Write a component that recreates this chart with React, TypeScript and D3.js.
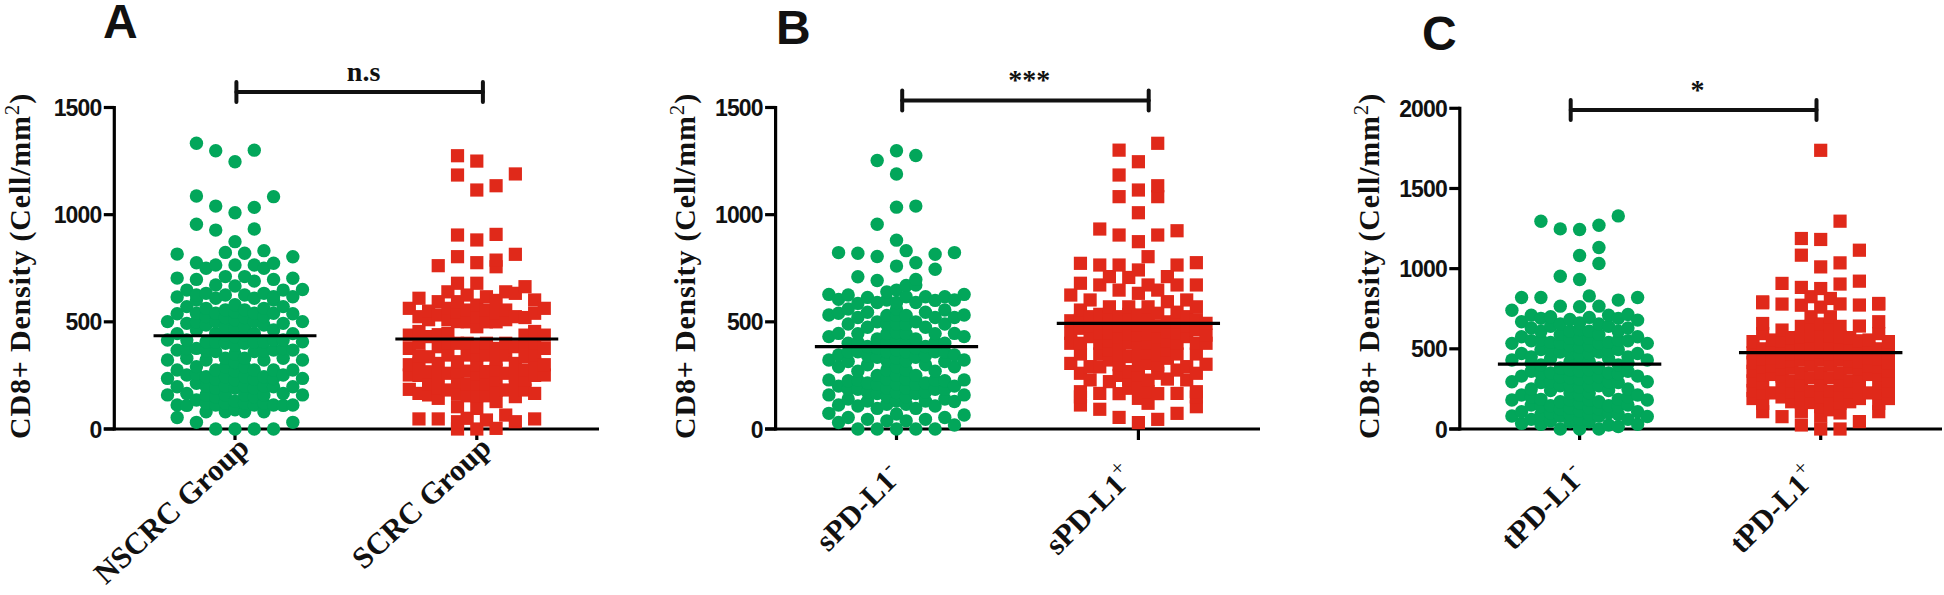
import React from "react";
import * as d3 from "d3";

// Every series: values per swarm lane, leftmost lane (-7) to rightmost lane (+7)
const nscrcLanes: number[][] = [
  [159, 236, 322, 415, 501],
  [54, 112, 197, 275, 368, 445, 538, 616, 704, 816],
  [110, 166, 252, 330, 375, 415, 493, 571, 648],
  [31, 135, 213, 255, 291, 376, 462, 500, 540, 602, 625, 698, 776, 955, 1087, 1333],
  [80, 120, 159, 200, 244, 322, 365, 407, 485, 525, 563, 633, 750],
  [0, 112, 150, 190, 232, 275, 361, 405, 446, 500, 540, 610, 672, 765, 928, 1040, 1298],
  [80, 120, 159, 200, 244, 290, 330, 400, 440, 478, 520, 556, 625, 711, 824],
  [0, 90, 130, 190, 230, 270, 310, 350, 390, 430, 470, 510, 545, 580, 667, 765, 874, 1009, 1247],
  [80, 120, 159, 200, 244, 290, 330, 400, 440, 478, 520, 556, 625, 711, 820],
  [0, 112, 150, 190, 232, 275, 361, 405, 446, 500, 540, 610, 690, 765, 933, 1034, 1301],
  [80, 120, 159, 200, 244, 322, 365, 407, 485, 525, 563, 633, 750, 832],
  [0, 112, 197, 235, 275, 368, 415, 462, 540, 602, 617, 698, 773, 1084],
  [110, 166, 252, 330, 375, 415, 493, 571, 648],
  [31, 112, 197, 275, 368, 445, 538, 617, 703, 804],
  [159, 236, 322, 407, 501, 651],
];
const scrcLanes: number[][] = [
  [185, 252, 300, 376, 438, 563],
  [47, 166, 250, 306, 340, 400, 455, 524, 610],
  [159, 210, 267, 337, 431, 510, 550],
  [47, 143, 190, 250, 306, 384, 440, 532, 594, 762],
  [182, 260, 345, 400, 446, 510, 563, 640],
  [0, 34, 104, 165, 221, 268, 314, 400, 501, 545, 594, 680, 804, 905, 1185, 1275],
  [50, 155, 210, 270, 345, 400, 500, 555, 625],
  [0, 96, 155, 210, 255, 300, 345, 384, 477, 525, 578, 680, 776, 882, 1115, 1250],
  [42, 155, 210, 268, 345, 400, 500, 555, 617],
  [3, 128, 180, 229, 275, 325, 376, 500, 540, 600, 757, 788, 908, 1135],
  [65, 182, 260, 345, 400, 510, 555, 640],
  [34, 151, 200, 250, 306, 384, 524, 633, 815, 1190],
  [182, 230, 275, 337, 390, 438, 520, 664],
  [47, 166, 250, 306, 345, 400, 455, 540, 602],
  [252, 300, 376, 438, 563],
];
const spdNegLanes: number[][] = [
  [73, 159, 229, 322, 431, 532, 628],
  [30, 112, 200, 290, 345, 446, 540, 605, 823],
  [54, 140, 185, 225, 315, 360, 400, 490, 560, 625],
  [0, 107, 185, 228, 270, 360, 405, 445, 520, 586, 710, 820],
  [45, 130, 172, 215, 300, 342, 385, 475, 545, 614],
  [0, 96, 165, 208, 250, 335, 378, 420, 500, 590, 693, 805, 955, 1253],
  [38, 115, 150, 190, 232, 275, 318, 360, 402, 445, 488, 530, 602, 640],
  [0, 70, 130, 170, 210, 250, 290, 330, 370, 410, 450, 490, 530, 560, 590, 648, 760, 881, 1035, 1190, 1298],
  [38, 115, 150, 190, 232, 275, 318, 360, 402, 445, 488, 530, 617, 670, 832],
  [0, 96, 165, 208, 250, 335, 378, 420, 500, 590, 672, 698, 776, 1040, 1276],
  [45, 130, 172, 215, 300, 342, 385, 475, 545, 617],
  [0, 107, 185, 228, 270, 360, 405, 445, 520, 600, 745, 815],
  [54, 140, 185, 225, 315, 360, 400, 490, 555, 617],
  [19, 128, 200, 290, 345, 446, 520, 602, 823],
  [65, 159, 229, 322, 431, 532, 628],
];
const spdPosLanes: number[][] = [
  [306, 400, 446, 505, 625],
  [112, 150, 174, 260, 350, 400, 470, 510, 555, 680, 773],
  [229, 291, 431, 480, 524, 602],
  [92, 166, 290, 350, 400, 450, 493, 535, 672, 765, 933],
  [221, 322, 370, 410, 450, 493, 535, 570, 711],
  [54, 165, 250, 300, 345, 390, 431, 480, 524, 648, 765, 905, 1084, 1185, 1301],
  [190, 230, 268, 338, 400, 445, 493, 535, 570, 707],
  [30, 143, 200, 253, 300, 345, 390, 438, 485, 532, 633, 742, 874, 1009, 1115, 1247],
  [120, 175, 228, 306, 355, 400, 445, 493, 535, 570, 672, 804],
  [45, 165, 260, 300, 345, 390, 431, 480, 540, 648, 905, 1084, 1135, 1333],
  [233, 330, 370, 410, 455, 500, 594, 711],
  [73, 166, 275, 350, 400, 450, 501, 545, 672, 765, 925],
  [229, 291, 431, 480, 524, 602],
  [104, 150, 174, 260, 350, 400, 463, 510, 570, 672, 776],
  [302, 400, 438, 493],
];
const tpdNegLanes: number[][] = [
  [81, 181, 295, 430, 534, 741],
  [35, 108, 212, 330, 471, 575, 669, 820],
  [60, 150, 200, 250, 360, 410, 450, 550, 630, 710],
  [30, 90, 140, 185, 290, 345, 400, 495, 555, 610, 690, 820, 1296],
  [50, 100, 145, 240, 295, 350, 440, 490, 540, 640, 700],
  [0, 80, 125, 170, 270, 325, 380, 480, 535, 590, 655, 766, 953, 1248],
  [45, 90, 130, 180, 225, 270, 320, 370, 420, 470, 520, 565, 610, 683],
  [0, 60, 110, 160, 210, 260, 310, 360, 410, 460, 510, 560, 620, 662, 762, 932, 1082, 1244],
  [45, 90, 130, 180, 225, 270, 320, 370, 420, 470, 520, 565, 610, 696, 830],
  [0, 80, 125, 170, 270, 325, 380, 480, 535, 590, 655, 766, 1032, 1132, 1271],
  [25, 100, 145, 240, 295, 350, 440, 490, 540, 640, 710],
  [15, 90, 140, 185, 290, 345, 400, 495, 555, 610, 690, 804, 1329],
  [60, 150, 200, 250, 360, 410, 450, 550, 630, 714],
  [30, 108, 212, 330, 471, 575, 679, 820],
  [78, 181, 295, 430, 534],
];
const tpdPosLanes: number[][] = [
  [190, 240, 300, 360, 415, 475, 545],
  [108, 160, 225, 290, 340, 385, 440, 500, 595, 658, 787, 793],
  [225, 340, 395, 445, 500, 555],
  [77, 200, 260, 330, 375, 420, 490, 550, 617, 779, 908],
  [170, 230, 300, 380, 425, 470, 520, 570],
  [25, 110, 165, 215, 275, 350, 430, 475, 525, 575, 640, 772, 883, 1084, 1188],
  [165, 235, 320, 400, 470, 525, 580, 640, 700, 825],
  [0, 80, 140, 200, 275, 350, 430, 480, 530, 590, 655, 760, 876, 1011, 1182, 1738],
  [120, 175, 235, 320, 400, 470, 525, 580, 640, 700, 814],
  [0, 100, 160, 215, 275, 350, 430, 475, 525, 575, 640, 780, 904, 1036, 1296],
  [170, 230, 300, 380, 425, 470, 520, 570],
  [46, 190, 260, 330, 375, 420, 490, 550, 642, 773, 922, 1115],
  [225, 340, 395, 445, 500, 555],
  [108, 160, 225, 290, 340, 385, 440, 500, 595, 669, 779, 783],
  [190, 240, 300, 360, 415, 475, 545],
];

const meansA = [435, 420];
const meansB = [384, 493];
const meansC = [405, 476];
const yTicksAB = [0, 500, 1000, 1500];
const yTicksC = [0, 500, 1000, 1500, 2000];

const GREEN = "#02A65A";
const RED = "#E0291A";
const SANS = "'Liberation Sans', Arial, sans-serif";
const SERIF = "'Liberation Serif', 'Times New Roman', serif";

type PanelCfg = {
  letter: string; lx: number; ly: number;
  axisX: number; axisEnd: number; yTop: number; yMax: number; ticks: number[];
  c1: number; c2: number; slot: number;
  lanes: [number[][], number[][]]; means: number[];
  brL: number; brR: number; brY: number; sig: string; sigX: number; sigY: number;
  labels: [string, string]; sup: [string, string]; labelEnd: [number, number][];
  titleX: number; labelSize: number; labelAngle: number;
};

const panels: PanelCfg[] = [
  { letter: "A", lx: 103, ly: 38, axisX: 114.3, axisEnd: 599, yTop: 107.5, yMax: 1500, ticks: yTicksAB,
    c1: 235, c2: 476.8, slot: 9.64, lanes: [nscrcLanes, scrcLanes], means: meansA,
    brL: 236.4, brR: 482.9, brY: 92, sig: "n.s", sigX: 363.6, sigY: 81,
    labels: ["NSCRC Group", "SCRC Group"], sup: ["", ""], labelEnd: [[251, 450], [493, 450]], titleX: 30,
    labelSize: 30.5, labelAngle: -43 },
  { letter: "B", lx: 776, ly: 44, axisX: 775.6, axisEnd: 1260, yTop: 107.5, yMax: 1500, ticks: yTicksAB,
    c1: 896.5, c2: 1138.4, slot: 9.66, lanes: [spdNegLanes, spdPosLanes], means: meansB,
    brL: 902.2, brR: 1148.7, brY: 100.5, sig: "***", sigX: 1029.3, sigY: 89,
    labels: ["sPD-L1", "sPD-L1"], sup: ["-", "+"], labelEnd: [[903, 478], [1136, 478]], titleX: 695,
    labelSize: 30.5, labelAngle: -45 },
  { letter: "C", lx: 1422, ly: 50, axisX: 1459.8, axisEnd: 1942, yTop: 108.3, yMax: 2000, ticks: yTicksC,
    c1: 1579.6, c2: 1820.7, slot: 9.67, lanes: [tpdNegLanes, tpdPosLanes], means: meansC,
    brL: 1570.7, brR: 1816.5, brY: 110, sig: "*", sigX: 1697.5, sigY: 99,
    labels: ["tPD-L1", "tPD-L1"], sup: ["-", "+"], labelEnd: [[1587, 478], [1819, 478]], titleX: 1379,
    labelSize: 30.5, labelAngle: -45 },
];

function Panel({ p }: { p: PanelCfg }) {
  const y = d3.scaleLinear().domain([0, p.yMax]).range([429, p.yTop]);
  const centers = [p.c1, p.c2];
  const xs = centers.map((c) => d3.scaleLinear().domain([-7, 7]).range([c - 7 * p.slot, c + 7 * p.slot]));
  const symbolPath = d3.symbol().type(d3.symbolSquare).size(13.2 * 13.2)();
  const circlePath = d3.symbol().type(d3.symbolCircle).size(Math.PI * 6.7 * 6.7)();
  const laneIdx = d3.range(-7, 8);
  return (
    <g>
      <text x={p.lx} y={p.ly} fontFamily={SANS} fontWeight="bold" fontSize={48} fill="#111">{p.letter}</text>
      {/* axes */}
      <g stroke="#000" strokeWidth={3.2} fill="none">
        <line x1={p.axisX} x2={p.axisX} y1={p.yTop - 1.5} y2={430.5} />
        <line x1={p.axisX - 10.5} x2={p.axisEnd} y1={429} y2={429} />
        {p.ticks.map((t) => (
          <line key={t} x1={p.axisX - 10.5} x2={p.axisX} y1={y(t)} y2={y(t)} />
        ))}
        {centers.map((c) => (
          <line key={c} x1={c} x2={c} y1={429} y2={440} />
        ))}
      </g>
      {p.lanes.map((lanes, g) => (
        <g key={g} fill={g === 0 ? GREEN : RED}>
          {lanes.map((vals, i) => vals.map((v, k) => (
            <path key={i + "-" + k} d={(g === 0 ? circlePath : symbolPath) as string}
              transform={`translate(${xs[g](laneIdx[i])},${y(v)})`} />
          )))}
        </g>
      ))}
      {p.ticks.map((t) => (
        <text key={t} x={p.axisX - 13} y={y(t) + 8.5} textAnchor="end" fontFamily={SANS} fontWeight="bold"
          fontSize={23} letterSpacing={-0.9} fill="#111">{t}</text>
      ))}
      {/* mean lines */}
      {p.means.map((m, g) => (
        <line key={g} x1={xs[g](-8.45)} x2={xs[g](8.45)} y1={y(m)} y2={y(m)} stroke="#000" strokeWidth={3.2} />
      ))}
      {/* bracket */}
      <g stroke="#111" fill="none" strokeLinecap="round">
        <line x1={p.brL} x2={p.brR} y1={p.brY} y2={p.brY} strokeWidth={4} />
        <line x1={p.brL} x2={p.brL} y1={p.brY - 10} y2={p.brY + 10} strokeWidth={4} />
        <line x1={p.brR} x2={p.brR} y1={p.brY - 10} y2={p.brY + 10} strokeWidth={4} />
      </g>
      <text x={p.sigX} y={p.sigY} textAnchor="middle" fontFamily={SERIF} fontWeight="bold" fontSize={28} fill="#111">{p.sig}</text>
      {/* y title */}
      <text transform={`translate(${p.titleX},266) rotate(-90)`} textAnchor="middle" fontFamily={SERIF}
        fontWeight="bold" fontSize={30} letterSpacing={0.8} fill="#111">
        CD8+ Density (Cell/mm<tspan dy={-11} fontSize={21} fontWeight="normal">2</tspan><tspan dy={11}>)</tspan>
      </text>
      {/* x labels */}
      {p.labels.map((l, g) => (
        <text key={g} transform={`translate(${p.labelEnd[g][0]},${p.labelEnd[g][1]}) rotate(${p.labelAngle})`} textAnchor="end"
          fontFamily={SERIF} fontWeight="bold" fontSize={p.labelSize} fill="#111">
          {l}{p.sup[g] ? <tspan dy={-13} fontSize={22} fontWeight="normal">{p.sup[g]}</tspan> : null}
        </text>
      ))}
    </g>
  );
}

export default function App() {
  return (
    <svg width={1944} height={595} viewBox="0 0 1944 595"
      style={{ position: "absolute", left: 0, top: 0, background: "#fff" }}>
      {panels.map((p) => <Panel key={p.letter} p={p} />)}
    </svg>
  );
}
